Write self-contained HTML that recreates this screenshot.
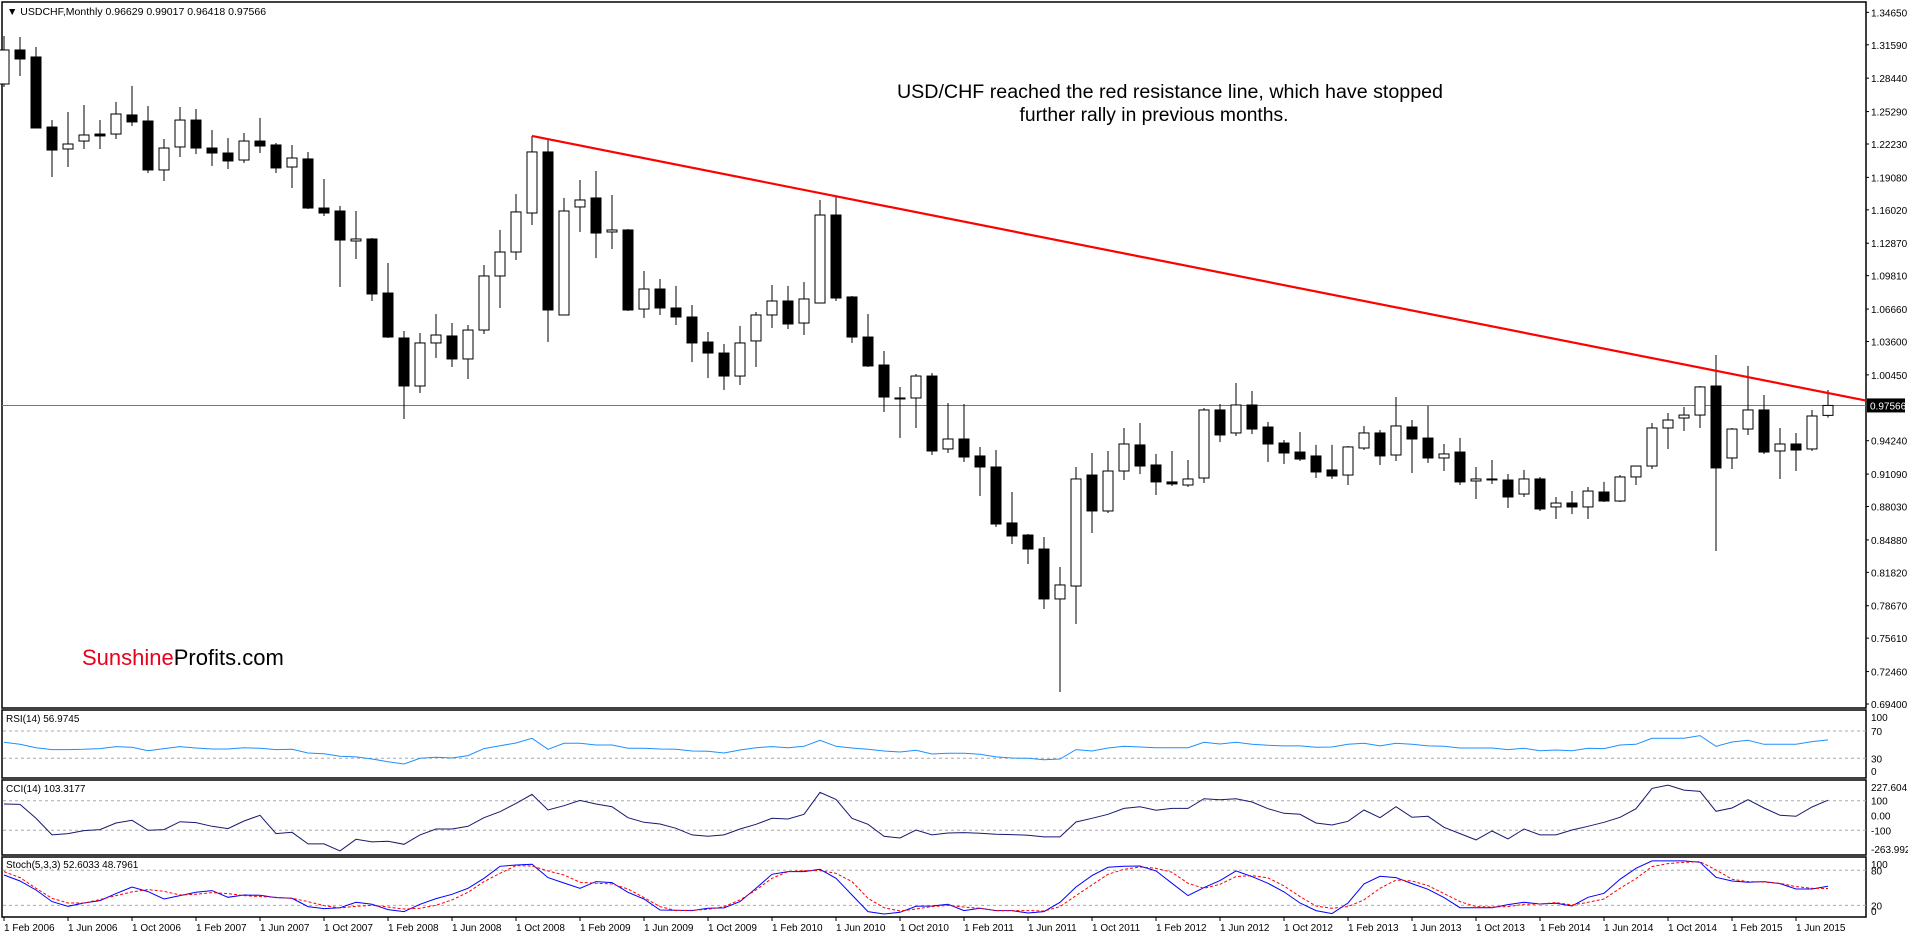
<!DOCTYPE html>
<html><head><meta charset="utf-8"><style>
html,body{margin:0;padding:0;background:#fff;}
svg{display:block;font-family:"Liberation Sans",sans-serif;}
</style></head><body>
<svg id="chart" width="1908" height="935" viewBox="0 0 1908 935" xmlns="http://www.w3.org/2000/svg">
<rect x="0" y="0" width="1908" height="935" fill="#fff"/>
<g id="main-panel"></g>
<g id="rsi-panel"></g>
<g id="cci-panel"></g>
<g id="stoch-panel"></g>
<g id="xaxis"></g>
<g id="yaxis"></g>
<text x="7" y="15" font-size="10.5" fill="#000">▼ USDCHF,Monthly  0.96629 0.99017 0.96418 0.97566</text>
<text x="1170" y="98" font-size="19" text-anchor="middle" textLength="546" lengthAdjust="spacingAndGlyphs">USD/CHF reached the red resistance line, which have stopped</text>
<text x="1154" y="121" font-size="19" text-anchor="middle" textLength="269" lengthAdjust="spacingAndGlyphs">further rally in previous months.</text>
<text x="82" y="665" font-size="22"><tspan fill="#e8001c">Sunshine</tspan><tspan fill="#000">Profits.com</tspan></text>
</svg>
<script>
const opens=[1.2789,1.3110,1.3044,1.2383,1.2176,1.2251,1.2317,1.2317,1.2497,1.2440,
1.1978,1.2195,1.2449,1.2185,1.2138,1.2072,1.2251,1.2214,1.2006,1.2082,
1.1619,1.1591,1.1308,1.1327,1.0817,1.0393,0.9940,1.0346,1.0412,1.0195,
1.0468,1.0978,1.1204,1.1572,1.2148,1.0610,1.1629,1.1714,1.1393,1.1412,
1.0666,1.0855,1.0676,1.0591,1.0355,1.0251,1.0034,1.0365,1.0610,1.0742,
1.0534,1.0723,1.1553,1.0780,1.0402,1.0138,0.9827,0.9827,1.0034,0.9346,
0.9440,0.9280,0.9176,0.8648,0.8534,0.8402,0.7931,0.8053,0.9100,0.8761,
0.9138,0.9384,0.9195,0.9035,0.9006,0.9072,0.9714,0.9497,0.9761,0.9553,
0.9402,0.9317,0.9280,0.9148,0.9100,0.9355,0.9497,0.9289,0.9553,0.9449,
0.9261,0.9317,0.9044,0.9063,0.9053,0.8921,0.9063,0.8799,0.8836,0.8799,
0.8940,0.8855,0.9082,0.9185,0.9544,0.9638,0.9666,0.9940,0.9261,0.9534,
0.9714,0.9327,0.9393,0.9346,0.96629];
const highs=[1.3242,1.3232,1.3138,1.2449,1.2525,1.2591,1.2449,1.2619,1.2770,1.2582,
1.2270,1.2572,1.2553,1.2355,1.2280,1.2327,1.2468,1.2233,1.2214,1.2148,
1.1893,1.1638,1.1591,1.1336,1.1100,1.0459,1.0440,1.0619,1.0534,1.0516,
1.1082,1.1412,1.1751,1.2299,1.2261,1.1714,1.1883,1.1968,1.1742,1.1421,
1.1025,1.0949,1.0883,1.0704,1.0449,1.0336,1.0506,1.0638,1.0893,1.0883,
1.0921,1.1695,1.1723,1.0789,1.0619,1.0270,0.9931,1.0053,1.0063,0.9780,
0.9770,0.9365,0.9336,0.8940,0.8544,0.8516,0.8232,0.9176,0.9308,0.9327,
0.9544,0.9591,0.9299,0.9327,0.9242,0.9733,0.9770,0.9968,0.9893,0.9600,
0.9431,0.9506,0.9384,0.9384,0.9374,0.9563,0.9525,0.9836,0.9619,0.9751,
0.9393,0.9449,0.9176,0.9242,0.9110,0.9148,0.9082,0.8893,0.8949,0.8987,
0.9035,0.9100,0.9190,0.9591,0.9685,0.9742,0.9940,1.0233,0.9544,1.0129,
0.9855,0.9544,0.9497,0.9714,0.99017];
const lows=[1.2761,1.2865,1.2370,1.1912,1.2006,1.2176,1.2176,1.2270,1.2393,1.1949,
1.1874,1.2100,1.2129,1.2016,1.1987,1.2044,1.2138,1.1949,1.1808,1.1610,
1.1544,1.0874,1.1138,1.0742,1.0393,0.9629,0.9874,1.0204,1.0119,1.0006,
1.0431,1.0676,1.1129,1.1459,1.0355,1.0605,1.1393,1.1147,1.1233,1.0648,
1.0582,1.0610,1.0516,1.0166,1.0016,0.9902,0.9950,1.0119,1.0487,1.0478,
1.0421,1.0718,1.0742,1.0346,1.0119,0.9695,0.9450,0.9544,0.9289,0.9308,
0.9223,0.8902,0.8610,0.8449,0.8261,0.7836,0.7053,0.7695,0.8553,0.8742,
0.9053,0.9110,0.8912,0.8997,0.8987,0.9025,0.9412,0.9468,0.9487,0.9223,
0.9204,0.9233,0.9072,0.9063,0.9006,0.9336,0.9195,0.9233,0.9119,0.9214,
0.9138,0.9006,0.8874,0.9016,0.8789,0.8893,0.8761,0.8685,0.8733,0.8685,
0.8846,0.8846,0.9006,0.9157,0.9346,0.9515,0.9544,0.8383,0.9157,0.9478,
0.9299,0.9063,0.9138,0.9327,0.96418];
const closes=[1.3110,1.3025,1.2374,1.2166,1.2223,1.2308,1.2299,1.2506,1.2431,1.1978,
1.2185,1.2449,1.2185,1.2138,1.2063,1.2251,1.2204,1.1997,1.2091,1.1619,
1.1572,1.1317,1.1327,1.0808,1.0402,0.9940,1.0346,1.0421,1.0195,1.0468,
1.0978,1.1204,1.1582,1.2148,1.0657,1.1591,1.1695,1.1383,1.1412,1.0657,
1.0855,1.0676,1.0591,1.0346,1.0251,1.0034,1.0346,1.0610,1.0742,1.0525,
1.0761,1.1553,1.0770,1.0402,1.0129,0.9836,0.9825,1.0034,0.9327,0.9440,
0.9270,0.9176,0.8638,0.8525,0.8402,0.7931,0.8063,0.9063,0.8761,0.9138,
0.9393,0.9185,0.9035,0.9016,0.9063,0.9714,0.9478,0.9761,0.9534,0.9393,
0.9308,0.9251,0.9129,0.9091,0.9365,0.9497,0.9280,0.9563,0.9440,0.9261,
0.9299,0.9035,0.9063,0.9060,0.8893,0.9063,0.8780,0.8836,0.8799,0.8949,
0.8855,0.9082,0.9185,0.9544,0.9619,0.9666,0.9931,0.9167,0.9534,0.9714,
0.9317,0.9393,0.9336,0.9657,0.97566];
const rsi=[53.4,50.5,45.6,42.7,42.7,43.2,44.2,47.1,46.1,41.2,44.2,47.1,45.1,43.7,43.7,45.6,44.6,42.7,43.2,37.8,
36.8,32.9,32.0,29.0,25.1,21.7,30.0,31.5,30.5,33.9,44.2,48.5,52.4,59.3,43.2,52.0,52.0,49.5,49.5,44.6,
44.6,43.7,43.2,40.7,40.2,37.8,42.2,45.6,47.1,45.6,47.6,56.4,47.6,45.1,43.2,40.7,39.3,41.7,36.3,37.3,
37.3,35.9,32.0,30.5,30.0,28.0,29.0,42.7,40.7,45.1,47.6,46.6,45.6,45.6,45.6,53.4,51.0,53.4,50.5,49.0,
48.1,48.1,46.1,46.6,50.5,52.0,48.1,52.0,50.5,48.1,47.6,45.1,45.1,45.1,42.7,44.6,41.2,42.2,41.2,44.6,
44.2,49.5,50.5,59.3,59.3,59.3,63.2,47.6,53.9,56.4,50.5,50.5,50.5,54.4,56.97];
const cci=[77.5,75.3,-19.1,-131.4,-122.5,-102.2,-95.5,-50.5,-32.6,-100,-95.5,-41.6,-48.3,-73.0,-88.7,-37.1,1.1,-122.5,-113.5,-192.1,
-192.1,-239.3,-160.7,-178.6,-174.1,-194.4,-131.4,-91.0,-91.0,-73.0,-14.6,25.8,82.0,142.7,37.1,66.3,102.2,77.5,59.6,-14.6,
-46.1,-57.3,-86.5,-131.4,-140.4,-131.4,-91.0,-59.5,-19.1,-23.6,7.9,156.2,109.0,-19.1,-59.5,-140.4,-151.7,-97.7,-131.4,-118.0,
-115.7,-120.2,-126.9,-129.2,-133.7,-144.9,-144.9,-43.8,-19.1,7.9,48.3,59.6,34.8,48.3,48.3,113.5,106.7,113.5,91.0,46.1,
14.6,7.9,-50.5,-64.0,-39.3,37.1,-14.6,59.6,-12.4,-5.6,-79.8,-122.5,-165.1,-104.5,-158.4,-91.0,-131.4,-131.4,-97.7,-73.0,
-46.1,-12.4,46.1,183.1,205.6,171.9,162.9,28.1,50.6,106.7,50.6,1.1,-5.6,57.3,103.3];
const stochMain=[72.0,61.7,46.3,26.3,18.3,24.0,28.0,40.0,51.4,43.5,30.9,36.6,42.3,45.2,33.8,37.7,37.2,33.2,32.0,17.8,
14.3,16.0,25.2,21.8,12.6,9.2,21.8,31.5,38.9,49.2,66.3,86.9,89.1,90.3,67.4,58.3,49.2,60.6,58.9,42.3,
30.9,12.0,11.5,10.9,14.9,15.5,26.3,49.2,73.1,77.7,77.7,81.7,66.3,37.7,9.2,5.2,8.1,18.3,18.9,21.8,
10.9,14.9,10.9,10.9,6.9,9.2,25.2,51.4,70.9,85.1,86.9,87.4,78.9,57.7,36.6,50.3,62.3,78.9,69.1,57.7,
42.9,24.0,10.9,5.8,24.0,56.6,69.7,67.4,57.2,47.5,33.2,16.0,16.0,16.0,21.2,25.2,22.3,23.5,18.9,33.8,
40.6,64.6,83.4,96.0,96.0,96.0,93.7,68.0,61.7,59.4,60.6,57.2,48.0,48.0,52.6];
const stochSignal=[77.7,67.4,49.2,32.0,24.0,24.0,29.8,36.6,42.9,46.9,44.0,37.7,38.9,41.7,40.0,36.6,34.9,33.8,32.0,26.3,
19.5,15.5,18.3,20.0,17.2,13.7,14.9,20.0,29.2,42.3,60.6,74.9,88.0,87.4,78.9,72.0,59.4,57.7,56.6,48.0,
33.2,17.8,10.9,11.5,13.2,17.8,29.2,46.3,66.3,77.7,79.4,79.4,74.9,60.6,32.0,16.0,10.3,13.7,17.8,20.0,
17.2,14.9,10.9,10.9,10.9,10.3,17.8,36.6,54.9,73.1,81.7,85.7,83.4,76.6,57.7,49.2,56.0,69.1,70.9,66.9,
53.2,34.9,18.9,14.9,17.8,29.2,49.2,63.4,61.7,53.7,40.0,26.3,17.8,17.2,17.8,21.8,22.3,24.6,20.6,25.2,
30.9,49.2,65.7,86.3,91.4,93.7,94.8,80.6,64.6,60.6,60.0,57.7,52.0,49.2,48.8];
const priceTicks=["1.34650","1.31590","1.28440","1.25290","1.22230","1.19080","1.16020","1.12870","1.09810","1.06660","1.03600","1.00450","0.94240","0.91090","0.88030","0.84880","0.81820","0.78670","0.75610","0.72460","0.69400"];
const dateLabels=["1 Feb 2006","1 Jun 2006","1 Oct 2006","1 Feb 2007","1 Jun 2007","1 Oct 2007","1 Feb 2008","1 Jun 2008","1 Oct 2008","1 Feb 2009","1 Jun 2009","1 Oct 2009","1 Feb 2010","1 Jun 2010","1 Oct 2010","1 Feb 2011","1 Jun 2011","1 Oct 2011","1 Feb 2012","1 Jun 2012","1 Oct 2012","1 Feb 2013","1 Jun 2013","1 Oct 2013","1 Feb 2014","1 Jun 2014","1 Oct 2014","1 Feb 2015","1 Jun 2015"];
const resistance=[[33,1.2299],[114,0.9874]];
const lastPrice=0.97566;

const NS="http://www.w3.org/2000/svg";
function mk(tag,attrs,parent){const e=document.createElementNS(NS,tag);for(const k in attrs)e.setAttribute(k,attrs[k]);parent.appendChild(e);return e;}
const AX=1866;
const FS=10;
const xS=i=>4+16*i;
const yP=p=>704-(p-0.694)*1060;
const yR=v=>778.8-v*0.683;
const yC=v=>815.5-v*0.148;
const yS=v=>917-v*0.584;
const main=document.getElementById('main-panel');
const rsiG=document.getElementById('rsi-panel');
const cciG=document.getElementById('cci-panel');
const stG=document.getElementById('stoch-panel');
const xa=document.getElementById('xaxis');
const ya=document.getElementById('yaxis');

[[2,708,main],[710,778,rsiG],[780,855,cciG],[857,917,stG]].forEach(([t,b,g])=>{
  const r=mk('rect',{x:2,y:t,width:AX-2,height:b-t,fill:'none',stroke:'#000','stroke-width':1.5},g);
  
  
});

const hl=mk('line',{x1:2,x2:AX,y1:yP(lastPrice),y2:yP(lastPrice),stroke:'#777','stroke-width':1},main);



for(let i=0;i<opens.length;i++){
  const x=xS(i),o=opens[i],c=closes[i];
  const g=mk('g',{},main);
  
  
  mk('line',{x1:x,x2:x,y1:yP(highs[i]),y2:yP(lows[i]),stroke:'#000','stroke-width':1},g);
  const top=yP(Math.max(o,c)),bot=yP(Math.min(o,c));
  const up=c>=o;
  mk('rect',{x:x-5,y:top,width:10,height:Math.max(bot-top,1),fill:up?'#fff':'#000',stroke:'#000','stroke-width':1},g);
}

{
  const [a,b]=resistance;const slope=(yP(b[1])-yP(a[1]))/(xS(b[0])-xS(a[0]));
  const x1=xS(a[0]),y1=yP(a[1]);
  const l=mk('line',{x1:x1,y1:y1,x2:AX,y2:y1+slope*(AX-x1),stroke:'#ff0000','stroke-width':2.2},main);
  
  
}

priceTicks.forEach(t=>{
  const y=yP(parseFloat(t));
  mk('line',{x1:AX,x2:AX+3,y1:y,y2:y,stroke:'#000'},ya);
  const tx=mk('text',{x:AX+5,y:y+4,'font-size':FS},ya);
  tx.textContent=t;
  
  
});
{
  const y=yP(lastPrice);
  mk('rect',{x:AX+1,y:y-7,width:38,height:14,fill:'#000'},ya);
  const tx=mk('text',{x:AX+4,y:y+4,'font-size':FS,fill:'#fff'},ya);
  tx.textContent=lastPrice.toFixed(5);
  
  
}

function dashed(g,y){mk('line',{x1:3,x2:AX,y1:y,y2:y,stroke:'#aaa','stroke-dasharray':'3,3','stroke-width':1},g);}
function poly(g,arr,fy,color,name,dash){
  const pts=arr.map((v,i)=>xS(i)+','+fy(v).toFixed(1)).join(' ');
  const p=mk('polyline',{points:pts,fill:'none',stroke:color,'stroke-width':1},g);
  if(dash)p.setAttribute('stroke-dasharray',dash);
  
  
}
function rlabel(g,txt,y,name){
  const t=mk('text',{x:AX+5,y:y+4,'font-size':FS},g);t.textContent=txt;
  
  
}
function tlabel(g,txt,y,name){
  const t=mk('text',{x:6,y:y,'font-size':FS},g);t.textContent=txt;
  
  
}
dashed(rsiG,yR(70));dashed(rsiG,yR(30));
poly(rsiG,rsi,yR,'#1e90ff','rsi-line');
tlabel(rsiG,'RSI(14) 56.9745',722,'rsi-title');
[[100,'100'],[70,'70'],[30,'30'],[0,'0']].forEach(([v,s])=>rlabel(rsiG,s,Math.min(Math.max(yR(v),717),771),'rsi-axis-label'));
dashed(cciG,yC(100));dashed(cciG,yC(-100));
poly(cciG,cci,yC,'#191970','cci-line');
tlabel(cciG,'CCI(14) 103.3177',792,'cci-title');
[[787,'227.604'],[yC(100),'100'],[yC(0),'0.00'],[yC(-100),'-100'],[849,'-263.9929']].forEach(([y,s])=>rlabel(cciG,s,y,'cci-axis-label'));
dashed(stG,yS(80));dashed(stG,yS(20));
poly(stG,stochMain,yS,'#0000ff','stoch-main-line');
poly(stG,stochSignal,yS,'#ff0000','stoch-signal-line','3,2');
tlabel(stG,'Stoch(5,3,3) 52.6033 48.7961',868,'stoch-title');
[[864,'100'],[yS(80),'80'],[yS(20),'20'],[911,'0']].forEach(([y,s])=>rlabel(stG,s,y,'stoch-axis-label'));

dateLabels.forEach((s,k)=>{
  const x=xS(k*4);
  mk('line',{x1:x,x2:x,y1:917,y2:921,stroke:'#000'},xa);
  const t=mk('text',{x:x,y:931,'font-size':FS},xa);
  t.textContent=s;
  
  
});
</script>
</body></html>
